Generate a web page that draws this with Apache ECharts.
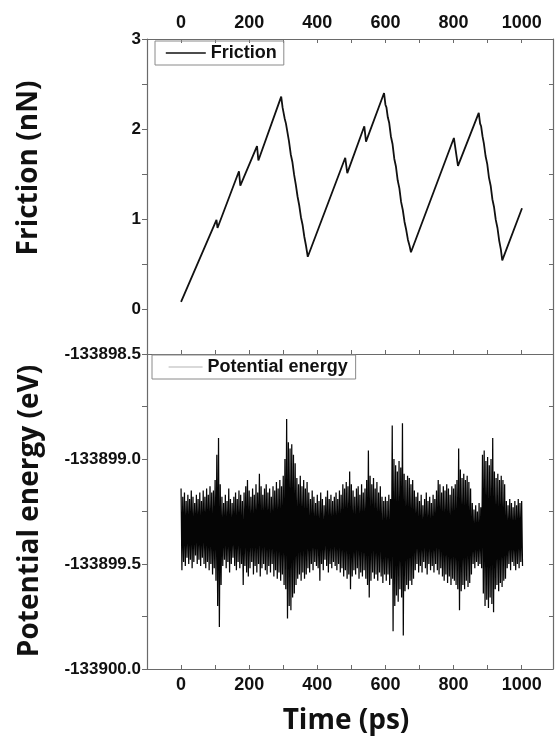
<!DOCTYPE html>
<html>
<head>
<meta charset="utf-8">
<script src="https://cdn.jsdelivr.net/npm/echarts@6/dist/echarts.min.js"></script>
<style>
  html, body { margin: 0; padding: 0; background: #ffffff; }
  #chart { width: 556px; height: 738px; }
</style>
</head>
<body>
<div id="chart"></div>
<script>
// ---- Friction trace (time in ps, friction in nN) ----
const frictionTime = [
  0, 3, 104, 107, 170, 174, 223, 227,
  294, 298, 301, 304, 308, 312, 317, 322, 327, 332, 337, 342, 347, 352, 357, 362, 367, 372,
  482, 488, 538, 543,
  596, 600, 603, 607, 611, 616, 621, 626, 631, 636, 641, 646, 651, 656, 661, 666, 671, 675,
  801, 813,
  874, 878, 881, 885, 889, 894, 899, 904, 909, 914, 919, 924, 929, 934, 939, 943,
  1001
];
const frictionValue = [
  0.08, 0.10, 0.99, 0.90, 1.53, 1.37, 1.81, 1.65,
  2.36, 2.24, 2.22, 2.12, 2.06, 1.97, 1.86, 1.72, 1.63, 1.49, 1.38, 1.25, 1.15, 1.02, 0.93, 0.80, 0.70, 0.58,
  1.68, 1.51, 2.03, 1.86,
  2.40, 2.27, 2.24, 2.13, 2.07, 1.92, 1.83, 1.67, 1.58, 1.43, 1.34, 1.19, 1.10, 0.97, 0.88, 0.77, 0.70, 0.63,
  1.90, 1.59,
  2.18, 2.06, 2.03, 1.92, 1.84, 1.70, 1.61, 1.46, 1.37, 1.22, 1.13, 0.99, 0.90, 0.76, 0.66, 0.54,
  1.12
];

// ---- Potential energy (eV): upper and lower extremes of the fluctuation in 5 ps bins ----
const peBinWidth = 5;
const peHigh = [
  -133899.14, -133899.18, -133899.16, -133899.20, -133899.17, -133899.19, -133899.15, -133899.18, -133899.21, -133899.17,
  -133899.19, -133899.16, -133899.20, -133899.15, -133899.18, -133899.14, -133899.17, -133899.13, -133899.16, -133899.15,
  -133899.10, -133898.98, -133898.90, -133899.12, -133899.18, -133899.21, -133899.17, -133899.20, -133899.14, -133899.19,
  -133899.21, -133899.18, -133899.16, -133899.19, -133899.15, -133899.17, -133899.20, -133899.16, -133899.13, -133899.10,
  -133899.15, -133899.18, -133899.14, -133899.17, -133899.12, -133899.16, -133899.07, -133899.13, -133899.17, -133899.14,
  -133899.12, -133899.16, -133899.14, -133899.18, -133899.13, -133899.15, -133899.11, -133899.14, -133899.10, -133899.13,
  -133899.08, -133899.00, -133898.81, -133898.92, -133898.95, -133898.93, -133898.98, -133899.02, -133899.09, -133899.12,
  -133899.08, -133899.13, -133899.10, -133899.14, -133899.11, -133899.16, -133899.19, -133899.15, -133899.18, -133899.21,
  -133899.17, -133899.20, -133899.16, -133899.19, -133899.22, -133899.18, -133899.15, -133899.19, -133899.17, -133899.20,
  -133899.18, -133899.16, -133899.19, -133899.15, -133899.17, -133899.12, -133899.14, -133899.11, -133899.13, -133899.06,
  -133899.12, -133899.15, -133899.18, -133899.14, -133899.13, -133899.17, -133899.12, -133899.16, -133899.14, -133899.10,
  -133898.96, -133899.08, -133899.12, -133899.09, -133899.14, -133899.11, -133899.16, -133899.13, -133899.18, -133899.20,
  -133899.18, -133899.20, -133899.17, -133899.19, -133898.84, -133899.00, -133899.03, -133899.06, -133899.01, -133899.04,
  -133898.83, -133899.07, -133899.10, -133899.08, -133899.09, -133899.12, -133899.10, -133899.15, -133899.18, -133899.16,
  -133899.20, -133899.17, -133899.22, -133899.19, -133899.16, -133899.20, -133899.18, -133899.21, -133899.17, -133899.19,
  -133899.15, -133899.10, -133899.12, -133899.16, -133899.13, -133899.15, -133899.12, -133899.14, -133899.17, -133899.13,
  -133899.14, -133899.12, -133899.10, -133898.95, -133899.05, -133899.09, -133899.07, -133899.10, -133899.08, -133899.11,
  -133899.14, -133899.21, -133899.24, -133899.22, -133899.25, -133899.21, -133899.23, -133898.98, -133898.96, -133899.01,
  -133898.99, -133899.03, -133899.00, -133898.90, -133899.06, -133899.09, -133899.07, -133899.10, -133899.08, -133899.10,
  -133899.12, -133899.20, -133899.22, -133899.19, -133899.21, -133899.23, -133899.20, -133899.22, -133899.19, -133899.21,
  -133899.20
];
const peLow = [
  -133899.53, -133899.49, -133899.51, -133899.47, -133899.50, -133899.48, -133899.52, -133899.49, -133899.46, -133899.50,
  -133899.48, -133899.51, -133899.47, -133899.50, -133899.52, -133899.49, -133899.53, -133899.50, -133899.55, -133899.52,
  -133899.58, -133899.70, -133899.80, -133899.60, -133899.51, -133899.48, -133899.52, -133899.49, -133899.54, -133899.50,
  -133899.47, -133899.51, -133899.53, -133899.49, -133899.52, -133899.50, -133899.60, -133899.51, -133899.54, -133899.56,
  -133899.52, -133899.49, -133899.55, -133899.51, -133899.54, -133899.50, -133899.56, -133899.52, -133899.50, -133899.53,
  -133899.55, -133899.51, -133899.54, -133899.50, -133899.56, -133899.53, -133899.57, -133899.54, -133899.58, -133899.55,
  -133899.60, -133899.62, -133899.76, -133899.70, -133899.72, -133899.66, -133899.64, -133899.60, -133899.57, -133899.55,
  -133899.58, -133899.54, -133899.57, -133899.55, -133899.52, -133899.54, -133899.50, -133899.53, -133899.49, -133899.51,
  -133899.52, -133899.58, -133899.50, -133899.53, -133899.48, -133899.51, -133899.54, -133899.50, -133899.52, -133899.49,
  -133899.51, -133899.53, -133899.50, -133899.54, -133899.52, -133899.56, -133899.53, -133899.57, -133899.55, -133899.62,
  -133899.56, -133899.53, -133899.55, -133899.52, -133899.57, -133899.54, -133899.56, -133899.53, -133899.57, -133899.60,
  -133899.66, -133899.58, -133899.54, -133899.57, -133899.55, -133899.58, -133899.54, -133899.56, -133899.59, -133899.55,
  -133899.58, -133899.55, -133899.60, -133899.57, -133899.82, -133899.70, -133899.65, -133899.68, -133899.62, -133899.66,
  -133899.84, -133899.63, -133899.60, -133899.62, -133899.58, -133899.60, -133899.57, -133899.53, -133899.50, -133899.54,
  -133899.51, -133899.54, -133899.49, -133899.52, -133899.55, -133899.50, -133899.53, -133899.51, -133899.54, -133899.50,
  -133899.53, -133899.55, -133899.52, -133899.56, -133899.58, -133899.55, -133899.59, -133899.56, -133899.60, -133899.57,
  -133899.58, -133899.60, -133899.62, -133899.72, -133899.63, -133899.60, -133899.62, -133899.58, -133899.61, -133899.59,
  -133899.55, -133899.50, -133899.52, -133899.49, -133899.51, -133899.50, -133899.52, -133899.64, -133899.70, -133899.67,
  -133899.71, -133899.66, -133899.69, -133899.73, -133899.62, -133899.60, -133899.63, -133899.59, -133899.61, -133899.58,
  -133899.57, -133899.52, -133899.50, -133899.53, -133899.49, -133899.51, -133899.53, -133899.50, -133899.52, -133899.49,
  -133899.51
];

// ---- Tick labels ----
const timeTickLabels = [0, 200, 400, 600, 800, 1000];
const frictionTickLabels = [0, 1, 2, 3];
const energyTickLabels = [-133900.0, -133899.5, -133899.0, -133898.5];

// ---- Build series data ----
const frictionData = frictionTime.map((t, i) => [t, frictionValue[i]]);
const peTime = peHigh.map((_, i) => i * peBinWidth);
const peData = [];
peHigh.forEach((hi, i) => {
  peData.push([peTime[i], hi]);
  peData.push([peTime[i] + peBinWidth / 2, peLow[i]]);
});

// ---- Styling helpers ----
const frameColor = '#6a6a6a';
const tickFont = { fontFamily: 'Liberation Sans', fontWeight: 'bold', color: '#111' };
const titleFont = '"Open Sans", "Liberation Sans", sans-serif';

const near = (a, b) => Math.abs(a - b) < 1e-6;
const timeFormatter = v => timeTickLabels.some(l => near(l, v)) ? String(Math.round(v)) : '';
const frictionFormatter = v => frictionTickLabels.some(l => near(l, v)) ? String(Math.round(v)) : '';
const energyFormatter = v => energyTickLabels.some(l => near(l, v)) ? v.toFixed(1) : '';

function timeAxis(gridIndex, position, showLabels) {
  return {
    type: 'value', gridIndex, position,
    min: -100, max: 1092, interval: 100,
    axisLine: { show: true, onZero: false, lineStyle: { color: frameColor, width: 1.2 } },
    axisTick: { show: true, inside: true, length: 4, lineStyle: { color: frameColor } },
    axisLabel: { show: showLabels, margin: 7, fontSize: 18, ...tickFont, formatter: timeFormatter },
    splitLine: { show: false }
  };
}

const chart = echarts.init(document.getElementById('chart'), null, { renderer: 'canvas' });

chart.setOption({
  animation: false,
  backgroundColor: '#ffffff',
  grid: [
    { left: 147, right: 1, top: 39, height: 315, containLabel: false },
    { left: 147, right: 1, top: 354, height: 315, containLabel: false }
  ],
  xAxis: [
    timeAxis(0, 'top', true),
    timeAxis(0, 'bottom', false),
    timeAxis(1, 'bottom', true)
  ],
  yAxis: [
    {
      type: 'value', gridIndex: 0, position: 'left',
      min: -0.5, max: 3, interval: 0.5,
      axisLine: { show: true, onZero: false, lineStyle: { color: frameColor, width: 1.2 } },
      axisTick: { show: true, inside: false, length: 5, lineStyle: { color: frameColor } },
      axisLabel: { margin: 6, fontSize: 17, ...tickFont, formatter: frictionFormatter },
      splitLine: { show: false }
    },
    {
      type: 'value', gridIndex: 0, position: 'right',
      min: -0.5, max: 3, interval: 0.5,
      axisLine: { show: true, onZero: false, lineStyle: { color: frameColor, width: 1.2 } },
      axisTick: { show: true, inside: true, length: 4, lineStyle: { color: frameColor } },
      axisLabel: { show: false },
      splitLine: { show: false }
    },
    {
      type: 'value', gridIndex: 1, position: 'left',
      min: -133900, max: -133898.5, interval: 0.25,
      axisLine: { show: true, onZero: false, lineStyle: { color: frameColor, width: 1.2 } },
      axisTick: { show: true, inside: false, length: 5, lineStyle: { color: frameColor } },
      axisLabel: { margin: 6, fontSize: 17, ...tickFont, formatter: energyFormatter },
      splitLine: { show: false }
    },
    {
      type: 'value', gridIndex: 1, position: 'right',
      min: -133900, max: -133898.5, interval: 0.25,
      axisLine: { show: true, onZero: false, lineStyle: { color: frameColor, width: 1.2 } },
      axisTick: { show: true, inside: true, length: 4, lineStyle: { color: frameColor } },
      axisLabel: { show: false },
      splitLine: { show: false }
    }
  ],
  legend: [
    {
      data: ['Friction'],
      left: 155, top: 41,
      padding: [3, 7, 3, 10],
      itemWidth: 40, itemHeight: 14, itemGap: 0,
      borderColor: '#8a8a8a', borderWidth: 1,
      selectedMode: false,
      itemStyle: { opacity: 0 },
      lineStyle: { color: '#111111', width: 1.6 },
      textStyle: { fontSize: 18, ...tickFont }
    },
    {
      data: ['Potential energy'],
      left: 152, top: 355,
      padding: [3, 8, 3, 16],
      itemWidth: 34, itemHeight: 14, itemGap: 0,
      borderColor: '#8a8a8a', borderWidth: 1,
      selectedMode: false,
      itemStyle: { opacity: 0 },
      lineStyle: { color: '#b4b4b4', width: 1.2 },
      textStyle: { fontSize: 18, ...tickFont }
    }
  ],
  graphic: [
    {
      type: 'text', x: 29, y: 168, rotation: Math.PI / 2,
      style: { text: 'Friction (nN)', font: 'bold 28px ' + titleFont, fill: '#111', align: 'center', verticalAlign: 'middle' }
    },
    {
      type: 'text', x: 30, y: 511, rotation: Math.PI / 2,
      style: { text: 'Potential energy (eV)', font: 'bold 28px ' + titleFont, fill: '#111', align: 'center', verticalAlign: 'middle' }
    },
    {
      type: 'text', x: 346, y: 721,
      style: { text: 'Time (ps)', font: 'bold 28px ' + titleFont, fill: '#111', align: 'center', verticalAlign: 'middle' }
    }
  ],
  series: [
    {
      name: 'Friction', type: 'line',
      xAxisIndex: 0, yAxisIndex: 0,
      data: frictionData,
      symbol: 'none', showSymbol: false,
      lineStyle: { color: '#111111', width: 1.8 },
      itemStyle: { color: '#111111' }
    },
    {
      name: 'Potential energy', type: 'line',
      xAxisIndex: 2, yAxisIndex: 2,
      data: peData,
      symbol: 'none', showSymbol: false,
      sampling: null,
      lineStyle: { color: '#050505', width: 1.25 },
      itemStyle: { color: '#b4b4b4' }
    }
  ]
});
</script>
</body>
</html>
